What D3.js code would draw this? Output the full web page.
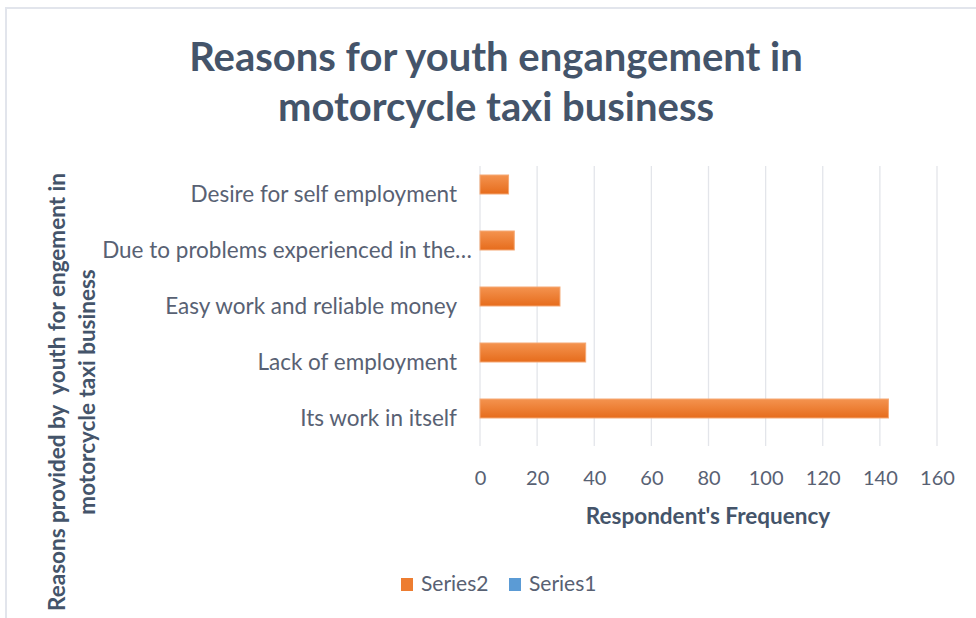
<!DOCTYPE html>
<html>
<head>
<meta charset="utf-8">
<script src="https://cdn.jsdelivr.net/npm/d3@7"></script>
<style>
  html, body { margin: 0; padding: 0; background: #fff; }
  svg { display: block; }
  text { font-family: Lato, "Open Sans", sans-serif; }
</style>
</head>
<body>
<svg id="chart" width="976" height="618"></svg>
<script>
// ---- data ----
const categories = [
  "Desire for self employment",
  "Due to problems experienced in the\u2026",
  "Easy work and reliable money",
  "Lack of employment",
  "Its work in itself"
];
const series2 = [10, 12, 28, 37, 143];
const series1 = [0, 0, 0, 0, 0];
const seriesNames = ["Series2", "Series1"];
const xTicks = [0, 20, 40, 60, 80, 100, 120, 140, 160];
const titleLines = ["Reasons for youth engangement in", "motorcycle taxi business"];
const yTitleLines = ["Reasons provided by  youth for engement in", "motorcycle taxi business"];
const xTitle = "Respondent's Frequency";

// ---- layout ----
const svg = d3.select("#chart");
const W = 976, H = 618;
const textCol = "#44546A";
const labelCol = "#586173";

// border
svg.append("path")
  .attr("d", `M6,${H} L6,8 L${W},8`)
  .attr("fill", "none").attr("stroke", "#e2e5ec").attr("stroke-width", 2);

const x = d3.scaleLinear().domain([0, 160]).range([480, 937]);
const y = d3.scaleBand().domain(categories).range([166, 446]).paddingInner(0).paddingOuter(0);
const ySub = d3.scaleBand().domain(seriesNames).range([0, y.bandwidth()]).paddingInner(0).paddingOuter(0.474);

const defs = svg.append("defs");
const grad = defs.append("linearGradient").attr("id", "orangeGrad")
  .attr("x1", 0).attr("y1", 0).attr("x2", 0).attr("y2", 1);
grad.append("stop").attr("offset", "0%").attr("stop-color", "#f4934f");
grad.append("stop").attr("offset", "100%").attr("stop-color", "#e66c1c");

// gridlines
svg.append("g").selectAll("line").data(xTicks).join("line")
  .attr("x1", d => x(d)).attr("x2", d => x(d))
  .attr("y1", 166).attr("y2", 446)
  .attr("stroke", "#e3e5ea").attr("stroke-width", 1.3);

// bars (Series2)
svg.append("g").selectAll("rect").data(categories).join("rect")
  .attr("x", x(0))
  .attr("y", (d) => y(d) + ySub("Series2"))
  .attr("width", (d, i) => x(series2[i]) - x(0))
  .attr("height", ySub.bandwidth())
  .attr("fill", "url(#orangeGrad)")
  .attr("stroke", "#f5a874").attr("stroke-width", 1);

// bars (Series1)
svg.append("g").selectAll("rect").data(categories).join("rect")
  .attr("x", x(0))
  .attr("y", (d) => y(d) + ySub("Series1"))
  .attr("width", (d, i) => x(series1[i]) - x(0))
  .attr("height", ySub.bandwidth())
  .attr("fill", "#5b9bd5");

// x axis tick labels
const xAxis = d3.axisBottom(x).tickValues(xTicks).tickSize(0).tickPadding(0);
const gx = svg.append("g").attr("transform", "translate(0,478)").call(xAxis);
gx.select(".domain").remove();
gx.selectAll("text")
  .attr("dy", "0.35em")
  .attr("fill", labelCol)
  .style("font-size", "20px")
  .style("font-family", "Lato, sans-serif");

// y axis category labels
const yAxis = d3.axisLeft(y).tickSize(0).tickPadding(0);
const gy = svg.append("g").attr("transform", "translate(457,0)").call(yAxis);
gy.select(".domain").remove();
gy.selectAll("text")
  .attr("fill", labelCol)
  .attr("dy", "0.35em")
  .attr("dx", d => d.endsWith("\u2026") ? 15 : 0)
  .style("font-size", "22.5px")
  .style("font-family", "Lato, sans-serif");

// title
svg.append("text")
  .attr("x", 496).attr("y", 57)
  .attr("text-anchor", "middle")
  .attr("fill", textCol)
  .style("font-size", "40px").style("font-weight", "bold")
  .selectAll("tspan").data(titleLines).join("tspan")
  .attr("x", 496).attr("dy", (d, i) => i === 0 ? "0.35em" : "50px")
  .text(d => d);

// x axis title
svg.append("text")
  .attr("x", 708).attr("y", 516).attr("dy", "0.35em")
  .attr("text-anchor", "middle").attr("fill", textCol)
  .style("font-size", "22.5px").style("font-weight", "bold")
  .text(xTitle);

// y axis title
const yt = svg.append("text")
  .attr("transform", "translate(57,392) rotate(-90)")
  .attr("text-anchor", "middle").attr("fill", textCol)
  .style("font-size", "22.5px").style("font-weight", "bold")
  .style("white-space", "pre");
yt.selectAll("tspan").data(yTitleLines).join("tspan")
  .attr("x", 0).attr("dy", (d, i) => i === 0 ? "0.35em" : "30px")
  .text(d => d);

// legend
const legendColors = ["#ed7d31", "#5b9bd5"];
const legendX = [401, 509];
const lg = svg.append("g");
seriesNames.forEach((s, i) => {
  lg.append("rect").attr("x", legendX[i]).attr("y", 578).attr("width", 12).attr("height", 13)
    .attr("fill", legendColors[i]);
  lg.append("text").attr("x", legendX[i] + 20).attr("y", 584).attr("dy", "0.35em")
    .attr("fill", labelCol).style("font-size", "21px").text(s);
});
</script>
</body>
</html>
